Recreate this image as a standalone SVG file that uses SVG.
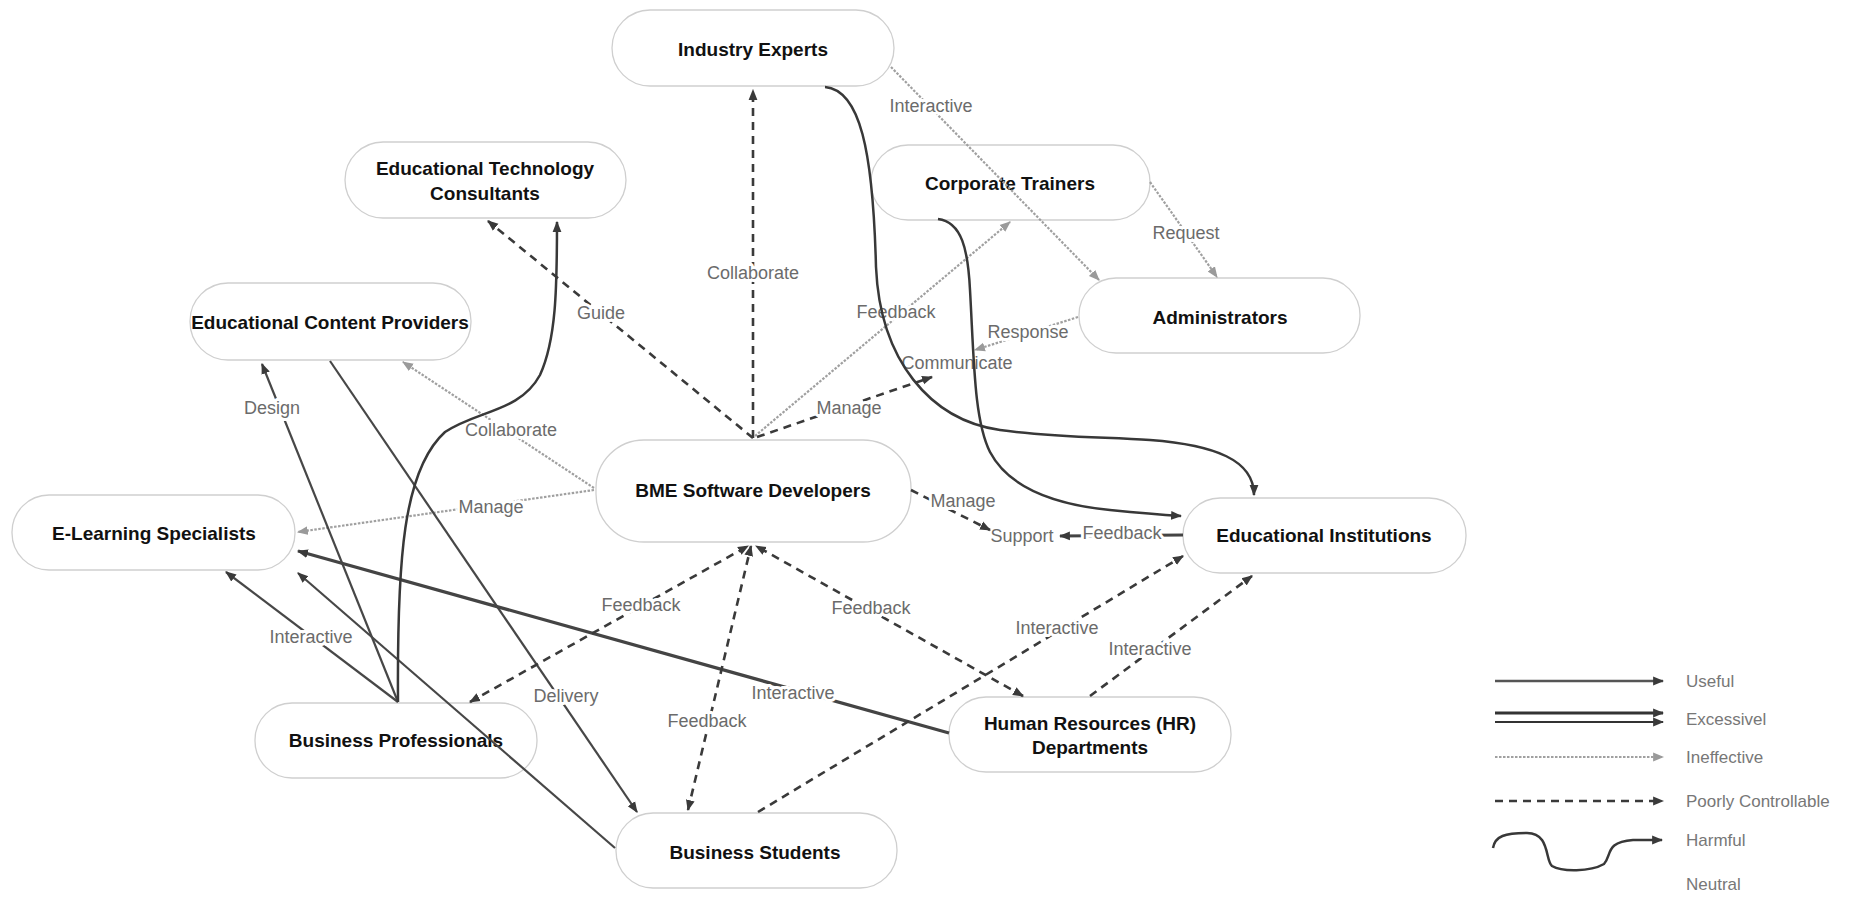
<svg xmlns="http://www.w3.org/2000/svg" width="1854" height="899" viewBox="0 0 1854 899">
<defs>
<style>
.node rect{fill:#fff;stroke:#cfcfcf;stroke-width:1.3}
.nt{font-family:"Liberation Sans",Arial,sans-serif;font-weight:bold;font-size:19px;fill:#111;text-anchor:middle}
.tn{font-family:"Liberation Sans",Arial,sans-serif;font-size:18px;fill:#6b6b6b;text-anchor:middle}
.lb{font-family:"Liberation Sans",Arial,sans-serif;font-size:18px;fill:#6b6b6b;text-anchor:middle;stroke:#fff;stroke-width:6;paint-order:stroke;stroke-linejoin:round}
.useful{fill:none;stroke:#474747;stroke-width:2.2;marker-end:url(#ah)}
.thick{fill:none;stroke:#444;stroke-width:3.2;marker-end:url(#ah)}
.dash{fill:none;stroke:#3a3a3a;stroke-width:2.6;stroke-dasharray:8 6;marker-end:url(#ah)}
.dot{fill:none;stroke:#a0a0a0;stroke-width:2.2;stroke-dasharray:2.5 1.5;marker-end:url(#ag)}
.harm{fill:none;stroke:#383838;stroke-width:2.5;marker-end:url(#ah)}
.lg{font-family:"Liberation Sans",Arial,sans-serif;font-size:17px;fill:#777}
</style>
<marker id="ah" viewBox="0 0 10 10" refX="9" refY="5" markerWidth="11" markerHeight="11" markerUnits="userSpaceOnUse" orient="auto-start-reverse"><path d="M0,1 L10,5 L0,9 z" fill="#3a3a3a"/></marker>
<marker id="ag" viewBox="0 0 10 10" refX="9" refY="5" markerWidth="11" markerHeight="11" markerUnits="userSpaceOnUse" orient="auto-start-reverse"><path d="M0,1 L10,5 L0,9 z" fill="#9a9a9a"/></marker>
</defs>
<rect width="1854" height="899" fill="#fff"/>

<g id="nodes">
<g id="industry-experts" class="node"><rect x="612" y="10" width="282" height="76" rx="38"/><text class="nt" x="753" y="56">Industry Experts</text></g>
<g id="edtech-consultants" class="node"><rect x="345" y="142" width="281" height="76" rx="38"/><text class="nt" x="485" y="175">Educational Technology</text><text class="nt" x="485" y="200">Consultants</text></g>
<g id="corporate-trainers" class="node"><rect x="871" y="145" width="279" height="75" rx="37"/><text class="nt" x="1010" y="190">Corporate Trainers</text></g>
<g id="administrators" class="node"><rect x="1079" y="278" width="281" height="75" rx="37"/><text class="nt" x="1220" y="324">Administrators</text></g>
<g id="content-providers" class="node"><rect x="190" y="283" width="281" height="77" rx="38"/><text class="nt" x="330" y="329">Educational Content Providers</text></g>
<g id="elearning-specialists" class="node"><rect x="12" y="495" width="283" height="75" rx="37"/><text class="nt" x="154" y="540">E-Learning Specialists</text></g>
<g id="bme-developers" class="node"><rect x="596" y="440" width="315" height="102" rx="48"/><text class="nt" x="753" y="497">BME Software Developers</text></g>
<g id="educational-institutions" class="node"><rect x="1183" y="498" width="283" height="75" rx="37"/><text class="nt" x="1324" y="542">Educational Institutions</text></g>
<g id="hr-departments" class="node"><rect x="949" y="697" width="282" height="75" rx="37"/><text class="nt" x="1090" y="730">Human Resources (HR)</text><text class="nt" x="1090" y="754">Departments</text></g>
<g id="business-professionals" class="node"><rect x="255" y="703" width="282" height="75" rx="37"/><text class="nt" x="396" y="747">Business Professionals</text></g>
<g id="business-students" class="node"><rect x="616" y="813" width="281" height="75" rx="37"/><text class="nt" x="755" y="859">Business Students</text></g>
<g id="communicate"><text class="tn" x="957" y="369">Communicate</text></g>
<g id="support"><text class="tn" x="1022" y="542">Support</text></g>
</g>

<g id="connectors">
<g><path class="dash" d="M753,438 L753,90"/><text class="lb" x="753" y="279">Collaborate</text></g>
<g><path class="dash" d="M753,438 L488,221"/><text class="lb" x="601" y="319">Guide</text></g>
<g><path class="dot" d="M594,488 L403,362"/><text class="lb" x="511" y="436">Collaborate</text></g>
<g><path class="dot" d="M594,490 L298,532"/><text class="lb" x="491" y="513">Manage</text></g>
<g><path class="dot" d="M755,436 L1010,222"/><text class="lb" x="896" y="318">Feedback</text></g>
<g><path class="dash" d="M757,437 L932,377"/><text class="lb" x="849" y="414">Manage</text></g>
<g><path class="dot" d="M1078,317 L975,350"/><text class="lb" x="1028" y="338">Response</text></g>
<g><path class="dash" d="M911,490 L990,530"/><text class="lb" x="963" y="507">Manage</text></g>
<g><path class="thick" d="M1183,535 L1060,536"/><text class="lb" x="1122" y="539">Feedback</text></g>
<g><path class="dot" d="M891,67 L1099,280"/><text class="lb" x="931" y="112">Interactive</text></g>
<g><path class="dot" d="M1150,182 L1217,277"/><text class="lb" x="1186" y="239">Request</text></g>
<g><path class="useful" d="M398,702 L262,364"/><text class="lb" x="272" y="414">Design</text></g>
<g><path class="useful" d="M398,702 L226,572"/><text class="lb" x="311" y="643">Interactive</text></g>
<g><path class="useful" d="M330,361 L637,812"/><text class="lb" x="566" y="702">Delivery</text></g>
<g><path class="useful" d="M615,848 L298,573"/></g>
<g><path class="thick" d="M949,733 L298,551"/><text class="lb" x="793" y="699">Interactive</text></g>
<g><path class="dash" style="marker-start:url(#ah)" d="M688,810 L751,546"/><text class="lb" x="707" y="727">Feedback</text></g>
<g><path class="dash" style="marker-start:url(#ah)" d="M470,702 L748,546"/><text class="lb" x="641" y="611">Feedback</text></g>
<g><path class="dash" style="marker-start:url(#ah)" d="M1023,696 L756,546"/><text class="lb" x="871" y="614">Feedback</text></g>
<g><path class="dash" d="M758,812 L1183,556"/><text class="lb" x="1057" y="634">Interactive</text></g>
<g><path class="dash" d="M1090,696 L1252,576"/><text class="lb" x="1150" y="655">Interactive</text></g>
<g><path class="harm" d="M825,87 C860,90 873,150 876,267 C880,360 930,420 1000,430 C1050,437 1100,437 1150,440 C1215,445 1254,460 1254,495"/></g>
<g><path class="harm" d="M938,219 C962,222 968,250 970,290 C974,360 974,420 990,452 C1010,490 1060,505 1110,510 C1140,513 1165,515 1181,516"/></g>
<g><path class="harm" d="M398,702 C397,560 403,470 445,432 C478,410 520,412 540,375 C556,340 557,290 557,222"/></g>
</g>

<g id="legend">
<path d="M1495,681 L1663,681" fill="none" stroke="#555" stroke-width="2.5" marker-end="url(#ah)"/>
<text class="lg" x="1686" y="687">Useful</text>
<path d="M1495,713 L1663,713" fill="none" stroke="#333" stroke-width="3" marker-end="url(#ah)"/>
<path d="M1495,722 L1663,722" fill="none" stroke="#333" stroke-width="2" marker-end="url(#ah)"/>
<text class="lg" x="1686" y="725">Excessivel</text>
<path d="M1495,757 L1663,757" fill="none" stroke="#a0a0a0" stroke-width="2.2" stroke-dasharray="2.5 1.5" marker-end="url(#ag)"/>
<text class="lg" x="1686" y="763">Ineffective</text>
<path d="M1495,801 L1663,801" fill="none" stroke="#3a3a3a" stroke-width="2.4" stroke-dasharray="8 6" marker-end="url(#ah)"/>
<text class="lg" x="1686" y="807">Poorly Controllable</text>
<path d="M1493,848 C1495,836 1505,833 1527,833 C1550,833 1545,860 1552,866 C1562,872 1590,872 1604,864 C1612,855 1605,842 1633,840 L1662,840" fill="none" stroke="#383838" stroke-width="2.5" marker-end="url(#ah)"/>
<text class="lg" x="1686" y="846">Harmful</text>
<text class="lg" x="1686" y="890">Neutral</text>
</g>
</svg>
